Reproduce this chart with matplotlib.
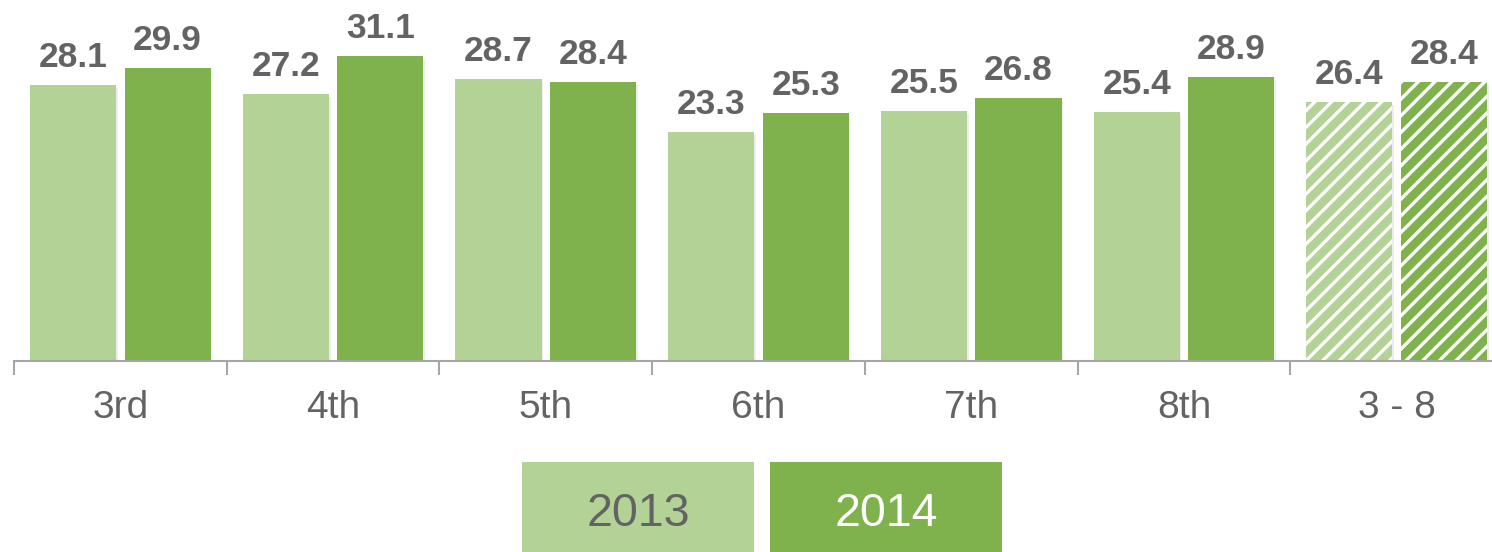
import matplotlib.pyplot as plt
import numpy as np
from matplotlib.patches import Rectangle

grades = ["3rd", "4th", "5th", "6th", "7th", "8th", "3 - 8"]
vals_2013 = [28.1, 27.2, 28.7, 23.3, 25.5, 25.4, 26.4]
vals_2014 = [29.9, 31.1, 28.4, 25.3, 26.8, 28.9, 28.4]
years = ["2013", "2014"]

light = "#b3d296"
dark = "#7fb24c"
grey = "#636363"

plt.rcParams["font.family"] = ["Liberation Sans", "DejaVu Sans"]
plt.rcParams["hatch.linewidth"] = 2.4

fig = plt.figure(figsize=(14.92, 5.52), dpi=100)
ax = fig.add_axes([14 / 1492, 191 / 552, 1489 / 1492, 361 / 552])

x = np.arange(len(grades))
w = 0.405
off = 0.222
for i in x:
    last = i == len(grades) - 1
    for v, dx, col in ((vals_2013[i], -off, light), (vals_2014[i], off, dark)):
        # soft shadow
        ax.bar(i + dx + 0.008, v, w, bottom=-0.3, color="#000000", alpha=0.07, zorder=1)
        if last:
            ax.bar(i + dx, v, w, color=col, edgecolor="white", linewidth=0,
                   hatch="//", zorder=2)
        else:
            ax.bar(i + dx, v, w, color=col, zorder=2)
        ax.annotate(f"{v:.1f}", (i + dx, v), xytext=(0, 13), textcoords="offset points",
                    ha="center", va="baseline", fontsize=25.5, fontweight="bold",
                    color=grey)

ax.set_xlim(-0.5, len(grades) - 0.5)
ax.set_ylim(0, 36.8)
ax.set_yticks([])
for s in ("top", "right", "left"):
    ax.spines[s].set_visible(False)
ax.spines["bottom"].set_color("#a6a6a6")
ax.spines["bottom"].set_linewidth(1.5)
ax.spines["bottom"].set_zorder(3)
ax.set_xticks(x)
ax.set_xticklabels(grades, fontsize=28, color=grey)
ax.tick_params(axis="x", which="major", length=0, pad=21)
ax.set_xticks(np.arange(-0.5, len(grades), 1.0), minor=True)
ax.tick_params(axis="x", which="minor", length=10, width=1.5, color="#a6a6a6")
ax.patch.set_alpha(0)

# legend boxes
boxes = [(522, light, grey), (770, dark, "white")]
for (px, col, tcol), yr in zip(boxes, years):
    fig.add_artist(Rectangle((px / 1492, 0), 232 / 1492, 90 / 552,
                             transform=fig.transFigure, facecolor=col, edgecolor="none"))
    fig.text((px + 116) / 1492, 38 / 552, yr, ha="center", va="center",
             fontsize=33.5, color=tcol)

fig.savefig("out.png", dpi=100)
